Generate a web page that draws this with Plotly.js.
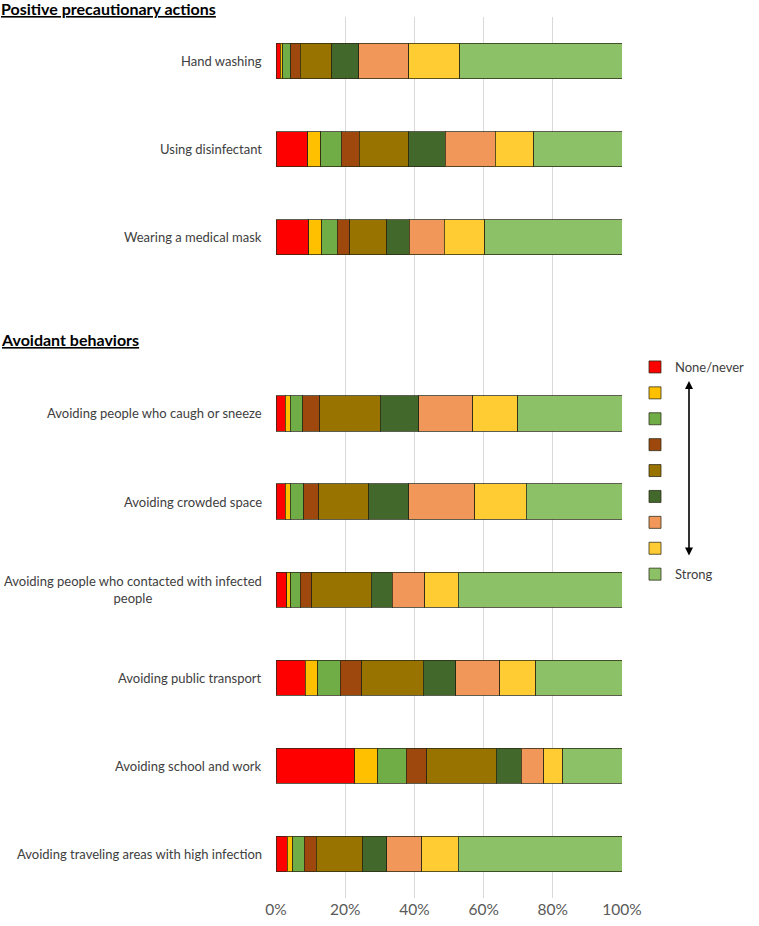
<!DOCTYPE html>
<html>
<head>
<meta charset="utf-8">
<script src="https://cdn.plot.ly/plotly-3.0.1.min.js"></script>
<style>html,body{margin:0;padding:0;background:#fff;}#chart{width:759px;height:926px;}</style>
</head>
<body>
<div id="chart"></div>
<script>
// Categories (top to bottom); ' ' is the blank spacer row between the two groups
var categories = ['Hand washing', 'Using disinfectant', 'Wearing a medical mask', ' ',
  'Avoiding people who caugh or sneeze', 'Avoiding crowded space',
  'Avoiding people who contacted with infected people', 'Avoiding public transport',
  'Avoiding school and work', 'Avoiding traveling areas with high infection'];
var categoryLabels = ['Hand washing', 'Using disinfectant', 'Wearing a medical mask', '',
  'Avoiding people who caugh or sneeze', 'Avoiding crowded space',
  'Avoiding people who contacted with infected<br>people', 'Avoiding public transport',
  'Avoiding school and work', 'Avoiding traveling areas with high infection'];

// Percent shares per level (None/never -> Strong)
var level1 = [1.2, 9.2, 9.4, null, 2.6, 2.6, 3.1, 8.4, 22.8, 3.3];
var level2 = [0.7, 3.7, 3.8, null, 1.5, 1.5, 1.2, 3.6, 6.6, 1.5];
var level3 = [2.4, 6.0, 4.5, null, 3.7, 3.9, 2.7, 6.5, 8.3, 3.3];
var level4 = [2.7, 5.1, 3.6, null, 4.8, 4.4, 3.4, 6.3, 5.8, 3.5];
var level5 = [9.1, 14.3, 10.7, null, 17.5, 14.4, 17.1, 17.7, 20.1, 13.4];
var level6 = [7.8, 10.6, 6.5, null, 11.2, 11.6, 6.1, 9.5, 7.3, 7.0];
var level7 = [14.5, 14.5, 10.1, null, 15.5, 19.1, 9.4, 12.7, 6.5, 10.1];
var level8 = [14.7, 11.1, 11.7, null, 13.0, 14.8, 9.6, 10.4, 5.5, 10.6];
var level9 = [46.9, 25.5, 39.7, null, 30.2, 27.7, 47.4, 25.0, 17.1, 47.3];

var levelNames = ['None/never', ' ', ' ', ' ', ' ', ' ', ' ', ' ', 'Strong'];
var xTickVals = [0, 20, 40, 60, 80, 100];
var xTickText = ['0%', '20%', '40%', '60%', '80%', '100%'];
var headers = ['Positive precautionary actions', 'Avoidant behaviors'];

var colors = ['#FF0000', '#FFC000', '#70AD47', '#9E480E', '#997300', '#43682B', '#F1975A', '#FFCD33', '#8CC168'];
var series = [level1, level2, level3, level4, level5, level6, level7, level8, level9];

var traces = series.map(function (vals, i) {
  return {
    type: 'bar', orientation: 'h',
    x: vals, y: categories,
    name: levelNames[i], legendgroup: 'g' + i,
    marker: { color: colors[i], line: { color: 'rgba(40,40,20,0.75)', width: 1 } },
    hoverinfo: 'x+y'
  };
});

var font = 'Lato, "Open Sans", "Liberation Sans", sans-serif';
var annotations = [];
categories.forEach(function (c, i) {
  if (!categoryLabels[i]) return;
  annotations.push({
    xref: 'paper', yref: 'y', x: 0, y: c, xanchor: 'right', yanchor: 'middle',
    xshift: -12, text: categoryLabels[i], showarrow: false, align: 'center',
    font: { family: font, size: 13, color: '#404040' }
  });
});
annotations.push({
  xref: 'paper', yref: 'paper', x: 0, y: (898 - 8.5) / 881, xshift: -277,
  xanchor: 'left', yanchor: 'middle', showarrow: false,
  text: '<b><u>' + headers[0] + '</u></b>', font: { family: font, size: 16, color: '#000' }
});
annotations.push({
  xref: 'paper', yref: 'paper', x: 0, y: (898 - 340) / 881, xshift: -277,
  xanchor: 'left', yanchor: 'middle', showarrow: false,
  text: '<b><u>' + headers[1] + '</u></b>', font: { family: font, size: 16, color: '#000' }
});
// double-headed arrow next to legend
annotations.push({
  xref: 'paper', yref: 'paper', x: (689 - 276) / 346, y: (898 - 381) / 881,
  axref: 'pixel', ayref: 'pixel', ax: 0, ay: 176, text: '', showarrow: true,
  arrowhead: 2, startarrowhead: 2, arrowside: 'end+start', arrowsize: 1, arrowwidth: 1.6,
  arrowcolor: '#000'
});

var layout = {
  width: 759, height: 926,
  margin: { l: 276, r: 137, t: 17, b: 28, autoexpand: false },
  barmode: 'stack', bargap: 0.6,
  paper_bgcolor: '#fff', plot_bgcolor: '#fff',
  font: { family: font, color: '#595959' },
  xaxis: {
    range: [0, 100], tickvals: xTickVals, ticktext: xTickText,
    showgrid: true, gridcolor: '#D9D9D9', gridwidth: 1, zeroline: false,
    showline: false, ticks: '', tickfont: { family: font, size: 15.5, color: '#595959' },
    fixedrange: true
  },
  yaxis: {
    type: 'category', categoryorder: 'array', categoryarray: categories,
    range: [9.5, -0.5], showticklabels: false, showgrid: false, zeroline: false, ticks: '',
    fixedrange: true
  },
  showlegend: true,
  legend: {
    xref: 'container', yref: 'container',
    x: 635 / 759, xanchor: 'left', y: (926 - 352) / 926, yanchor: 'top',
    traceorder: 'grouped', tracegroupgap: 6, bgcolor: 'rgba(0,0,0,0)',
    font: { family: font, size: 13, color: '#404040' }, itemwidth: 30
  },
  annotations: annotations
};

Plotly.newPlot('chart', traces, layout, { staticPlot: true, displayModeBar: false });
</script>
</body>
</html>
